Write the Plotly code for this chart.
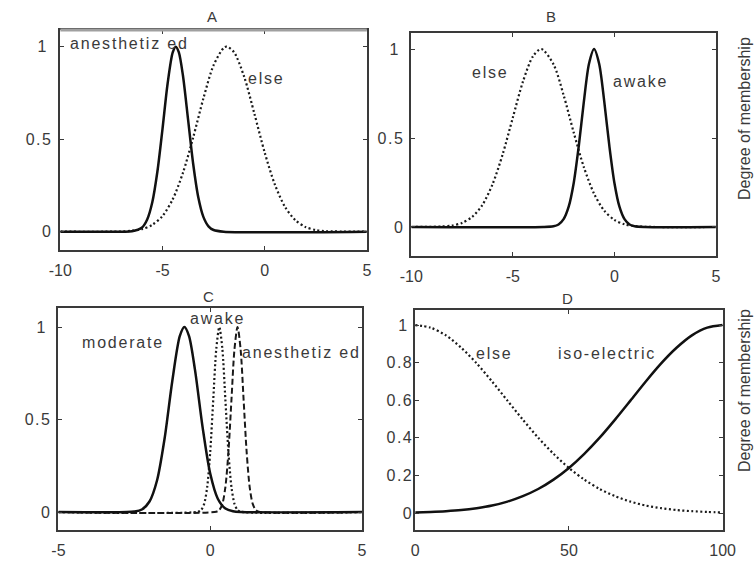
import plotly.graph_objects as go

# ---------------- data ----------------
# Panel A
a_anes_x = [-10, -7, -6.5, -6, -5.75, -5.5, -5.25, -5, -4.75, -4.5, -4.35, -4.2, -4, -3.75, -3.5, -3.25, -3, -2.75, -2.5, -2, 5]
a_anes_y = [0, 0, 0.002, 0.023, 0.066, 0.159, 0.325, 0.556, 0.801, 0.969, 1.0, 0.969, 0.844, 0.607, 0.367, 0.186, 0.080, 0.029, 0.009, 0, 0]
a_else_x = [-10, -7, -6.5, -6, -5.5, -5, -4.5, -4, -3.5, -3, -2.5, -2, -1.85, -1.5, -1, -0.5, 0, 0.5, 1, 1.5, 2, 2.5, 3, 5]
a_else_y = [0, 0.001, 0.005, 0.014, 0.037, 0.085, 0.175, 0.318, 0.509, 0.720, 0.900, 0.994, 1.0, 0.970, 0.836, 0.636, 0.428, 0.254, 0.133, 0.062, 0.025, 0.009, 0.003, 0]

# Panel B
b_else_x = [-10, -9, -8.5, -8, -7.5, -7, -6.5, -6, -5.5, -5, -4.5, -4, -3.6, -3, -2.5, -2, -1.5, -1, -0.5, 0, 0.5, 1, 1.5, 5]
b_else_y = [0, 0.001, 0.003, 0.008, 0.023, 0.057, 0.124, 0.240, 0.409, 0.615, 0.818, 0.961, 1.0, 0.915, 0.741, 0.530, 0.335, 0.187, 0.092, 0.040, 0.015, 0.005, 0.001, 0]
b_awake_x = [-10, -3.5, -3, -2.75, -2.5, -2.25, -2, -1.75, -1.5, -1.25, -1, -0.75, -0.5, -0.25, 0, 0.25, 0.5, 0.75, 1, 1.5, 5]
b_awake_y = [0, 0, 0.004, 0.014, 0.044, 0.114, 0.249, 0.458, 0.707, 0.917, 1.0, 0.917, 0.707, 0.458, 0.249, 0.114, 0.044, 0.014, 0.004, 0, 0]

# Panel C
c_mod_x = [-5, -2.75, -2.5, -2.25, -2, -1.75, -1.5, -1.25, -1, -0.85, -0.7, -0.5, -0.25, 0, 0.25, 0.5, 0.75, 1, 5]
c_mod_y = [0, 0, 0.003, 0.014, 0.057, 0.172, 0.400, 0.707, 0.952, 1.0, 0.952, 0.767, 0.458, 0.208, 0.072, 0.019, 0.004, 0, 0]
c_awake_x = [-5, -0.4, -0.3, -0.2, -0.1, 0, 0.1, 0.2, 0.3, 0.4, 0.5, 0.6, 0.7, 0.8, 0.9, 1.0, 5]
c_awake_y = [0, 0.002, 0.011, 0.044, 0.135, 0.325, 0.607, 0.882, 1.0, 0.882, 0.607, 0.325, 0.135, 0.044, 0.011, 0.002, 0]
c_anes_x = [-5, 0.2, 0.3, 0.4, 0.5, 0.6, 0.7, 0.8, 0.9, 1.0, 1.1, 1.2, 1.3, 1.4, 1.5, 1.6, 5]
c_anes_y = [0, 0.002, 0.011, 0.044, 0.135, 0.325, 0.607, 0.882, 1.0, 0.882, 0.607, 0.325, 0.135, 0.044, 0.011, 0.002, 0]

# Panel D
d_x = [0, 5, 10, 15, 20, 25, 30, 35, 40, 45, 50, 55, 60, 65, 70, 75, 80, 85, 90, 95, 100]
d_else_y = [1.0, 0.986, 0.945, 0.879, 0.796, 0.700, 0.598, 0.497, 0.401, 0.315, 0.240, 0.178, 0.128, 0.090, 0.061, 0.040, 0.026, 0.016, 0.010, 0.006, 0.003]
d_iso_y = [0.003, 0.006, 0.010, 0.016, 0.026, 0.040, 0.061, 0.090, 0.128, 0.178, 0.240, 0.315, 0.401, 0.497, 0.598, 0.700, 0.796, 0.879, 0.945, 0.986, 1.0]

# tick labels
ab_xticks = [-10, -5, 0, 5]
c_xticks = [-5, 0, 5]
d_xticks = [0, 50, 100]
abc_yticks = [0, 0.5, 1]
abc_yticktext = ["0", "0.5", "1"]
d_yticks = [0, 0.2, 0.4, 0.6, 0.8, 1]
d_yticktext = ["0", "0.2", "0.4", "0.6", "0.8", "1"]

# ---------------- figure ----------------
W, H = 755, 563
def px(x):
    return x / W
def py(y):
    return 1 - y / H

SOLID = dict(color="#111111", width=2.5)
DOT = dict(color="#1a1a1a", width=2.2, dash="2px,2.5px")
DASH = dict(color="#1a1a1a", width=2, dash="6px,3px")

fig = go.Figure()
def add(x, y, line, ax):
    fig.add_trace(go.Scatter(x=x, y=y, mode="lines", line=dict(shape="spline", smoothing=0.8, **line),
                             xaxis="x" + ax, yaxis="y" + ax, showlegend=False, hoverinfo="skip"))

add(a_else_x, a_else_y, DOT, "")
add(a_anes_x, a_anes_y, SOLID, "")
add(b_else_x, b_else_y, DOT, "2")
add(b_awake_x, b_awake_y, SOLID, "2")
add(c_awake_x, c_awake_y, DOT, "3")
add(c_anes_x, c_anes_y, DASH, "3")
add(c_mod_x, c_mod_y, SOLID, "3")
add(d_x, d_else_y, DOT, "4")
add(d_x, d_iso_y, SOLID, "4")

FAMILY = "Liberation Sans, Arial, sans-serif"
TICKFONT = dict(family=FAMILY, size=16, color="#3a3a3a")

def spaced(t, s):
    return '<span style="letter-spacing:%spx">%s</span>' % (s, t)

def ylab(t):
    # the "1" labels sit a little left of the others in the original
    return spaced(t, 6 if t == "1" else 1.5)

def xax(dom, rng, ticks, anchor):
    return dict(domain=dom, range=rng, tickvals=ticks, ticktext=[str(t) for t in ticks],
                showline=True, mirror="ticks", linecolor="#3a3a3a", linewidth=1.5,
                ticks="inside", ticklen=4, tickcolor="#3a3a3a", showgrid=False, zeroline=False,
                tickfont=TICKFONT, anchor=anchor, ticklabelstandoff=5, fixedrange=True)

def yax(dom, rng, ticks, text, anchor, standoff):
    return dict(domain=dom, range=rng, tickvals=ticks, ticktext=[ylab(t) for t in text],
                showline=True, mirror="ticks", linecolor="#3a3a3a", linewidth=1.5,
                ticks="inside", ticklen=4, tickcolor="#3a3a3a", showgrid=False, zeroline=False,
                tickfont=TICKFONT, anchor=anchor, ticklabelstandoff=standoff, fixedrange=True)

fig.update_layout(
    width=W, height=H, margin=dict(l=0, r=0, t=0, b=0),
    paper_bgcolor="white", plot_bgcolor="white", showlegend=False,
    xaxis=xax([px(50), px(367)], [-10, 5], ab_xticks, "y"),
    yaxis=yax([py(250), py(30)], [-0.099, 1.09], abc_yticks, abc_yticktext, "x", 3),
    xaxis2=xax([px(413), px(728)], [-10, 5], ab_xticks, "y2"),
    yaxis2=yax([py(256), py(33)], [-0.163, 1.09], abc_yticks, abc_yticktext, "x2", 2),
    xaxis3=xax([px(48), px(362)], [-5, 5], c_xticks, "y3"),
    yaxis3=yax([py(530), py(308)], [-0.097, 1.103], abc_yticks, abc_yticktext, "x3", 2),
    xaxis4=xax([px(417), px(735)], [0, 100], d_xticks, "y4"),
    yaxis4=yax([py(530), py(310)], [-0.09, 1.08], d_yticks, d_yticktext, "x4", -3),
)

def label(text, x, y, spacing=1.8, size=16):
    fig.add_annotation(text=spaced(text, spacing),
                       x=px(x), y=py(y), xref="paper", yref="paper",
                       xanchor="center", yanchor="middle", showarrow=False,
                       font=dict(family=FAMILY, size=size, color="#3a3a3a"))

# curve labels (centres)
label("anesthetiz ed", 121.5, 43)
label("else", 263.5, 78)
label("else", 494.5, 73)
label("awake", 650, 82)
label("moderate", 114.5, 342)
label("awake", 212.5, 318)
label("anesthetiz ed", 299.5, 352)
label("else", 499.5, 353)
label("iso-electric", 615, 353)

# panel titles
for t, x, y in [("A", 207, 17), ("B", 557, 17), ("C", 203, 296), ("D", 575, 298)]:
    label(t, x, y, spacing=0, size=15)

for x, y in [(757, 118), (757, 390)]:
    fig.add_annotation(text="Degree of membership", x=px(x), y=py(y), xref="paper", yref="paper",
                       xanchor="center", yanchor="middle", textangle=-90, showarrow=False,
                       font=dict(family=FAMILY, size=16, color="#3a3a3a"))

# lighter, thicker top frame of panel A
fig.add_shape(type="line", xref="paper", yref="paper", x0=px(50), x1=px(367), y0=py(30), y1=py(30),
              line=dict(color="#a0a0a0", width=3))

fig.write_html("out.html")
